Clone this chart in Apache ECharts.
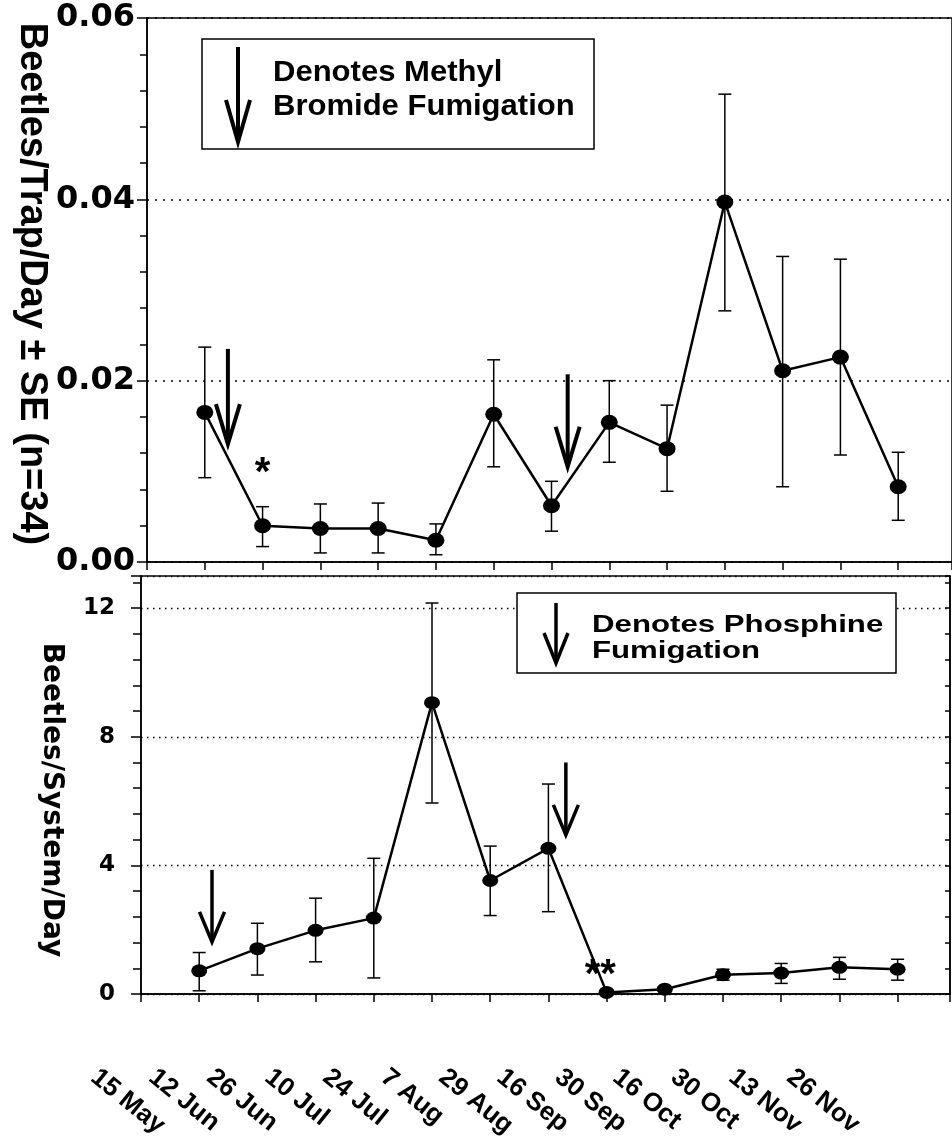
<!DOCTYPE html>
<html>
<head>
<meta charset="utf-8">
<script src="https://cdn.jsdelivr.net/npm/echarts/dist/echarts.min.js"></script>
<style>
html, body { margin: 0; padding: 0; background: #fff; }
#chart { width: 952px; height: 1137px; }
</style>
</head>
<body>
<div id="chart"></div>
<script>
// sampling dates, one per point (x = 1..13)
var dateLabels = ['15 May', '12 Jun', '26 Jun', '10 Jul', '24 Jul', '7 Aug', '29 Aug',
                  '16 Sep', '30 Sep', '16 Oct', '30 Oct', '13 Nov', '26 Nov'];

// top panel: beetles / trap / day, mean and mean - SE, mean + SE
var trapMean = [0.0165, 0.0040, 0.0037, 0.0037, 0.0024, 0.0163, 0.0062, 0.0154, 0.0125, 0.0397, 0.0211, 0.0226, 0.0083];
var trapLow  = [0.0093, 0.0017, 0.0010, 0.0010, 0.0008, 0.0105, 0.0034, 0.0110, 0.0078, 0.0277, 0.0083, 0.0118, 0.0046];
var trapHigh = [0.0237, 0.0061, 0.0064, 0.0065, 0.0042, 0.0223, 0.0089, 0.0200, 0.0173, 0.0516, 0.0337, 0.0334, 0.0121];

// bottom panel: beetles / system / day
var systemMean = [0.72, 1.41, 1.98, 2.36, 9.06, 3.53, 4.53, 0.05, 0.15, 0.60, 0.65, 0.83, 0.77];
var systemLow  = [0.10, 0.59, 1.00, 0.50, 5.94, 2.44, 2.56, 0.05, 0.15, 0.43, 0.33, 0.46, 0.43];
var systemHigh = [1.29, 2.20, 2.98, 4.22, 12.16, 4.60, 6.53, 0.05, 0.15, 0.77, 0.95, 1.14, 1.08];

// fumigation arrows: [x, y of tail, y of tip]
var bromideArrows = [[1.40, 0.0235, 0.0130], [7.28, 0.0207, 0.0105]];
var phosphineArrows = [[1.22, 3.86, 1.62], [7.30, 7.20, 4.95]];

// significance marks: [x, y, text]
var trapMarks = [[2.0, 0.0107, '*']];
var systemMarks = [[7.89, 0.84, '**']];

var trapTicks = { min: 0, max: 0.06, step: 0.02 };
var systemTicks = { min: 0, max: 13, step: 4 };

var black = '#000';
var chart = echarts.init(document.getElementById('chart'));

var pts = function (vals) {
    return vals.map(function (v, i) { return [i + 1, v]; });
};

var errorBars = function (xi, yi, lo, hi, cap) {
    return {
        type: 'custom', xAxisIndex: xi, yAxisIndex: yi, z: 2, silent: true,
        data: lo.map(function (v, i) { return [i + 1, v, hi[i]]; }),
        encode: { x: 0, y: [1, 2] },
        renderItem: function (params, api) {
            var x = api.value(0);
            var a = api.coord([x, api.value(2)]);
            var b = api.coord([x, api.value(1)]);
            if (Math.abs(a[1] - b[1]) < 1) return null;
            var st = { stroke: black, lineWidth: 1.5 };
            return { type: 'group', children: [
                { type: 'line', shape: { x1: a[0], y1: a[1], x2: b[0], y2: b[1] }, style: st },
                { type: 'line', shape: { x1: a[0] - cap, y1: a[1], x2: a[0] + cap, y2: a[1] }, style: st },
                { type: 'line', shape: { x1: b[0] - cap, y1: b[1], x2: b[0] + cap, y2: b[1] }, style: st }
            ] };
        }
    };
};

var arrowSeries = function (xi, yi, d, headH, headW, lw) {
    return {
        type: 'custom', xAxisIndex: xi, yAxisIndex: yi, z: 5, silent: true,
        data: d, encode: { x: 0, y: [1, 2] },
        renderItem: function (params, api) {
            var t = api.coord([api.value(0), api.value(1)]);
            var p = api.coord([api.value(0), api.value(2)]);
            var st = { stroke: black, lineWidth: lw, fill: null, lineJoin: 'miter' };
            return { type: 'group', children: [
                { type: 'line', shape: { x1: t[0], y1: t[1], x2: p[0], y2: p[1] - 2 }, style: st },
                { type: 'polyline', shape: { points: [[p[0] - headW / 2, p[1] - headH], [p[0], p[1]], [p[0] + headW / 2, p[1] - headH]] }, style: st }
            ] };
        }
    };
};

var markSeries = function (xi, yi, d, size) {
    return {
        type: 'custom', xAxisIndex: xi, yAxisIndex: yi, z: 5, silent: true,
        data: d.map(function (m) { return [m[0], m[1]]; }), encode: { x: 0, y: 1 },
        renderItem: function (params, api) {
            var c = api.coord([api.value(0), api.value(1)]);
            return { type: 'text', x: c[0], y: c[1] + size * 0.23, style: {
                text: d[params.dataIndex][2], fill: black, align: 'center', verticalAlign: 'middle',
                font: 'bold ' + size + 'px "Liberation Sans", Arial, sans-serif' } };
        }
    };
};

var lineSeries = function (xi, yi, vals, size) {
    return {
        type: 'line', xAxisIndex: xi, yAxisIndex: yi, z: 3, data: pts(vals),
        symbol: 'circle', symbolSize: size, showSymbol: true,
        itemStyle: { color: black }, lineStyle: { color: black, width: 2.5 }
    };
};

var axisLine = { show: true, lineStyle: { color: black, width: 1.5 } };
var tickFont = '"DejaVu Sans", sans-serif';

option = {
    animation: false,
    backgroundColor: '#fff',
    grid: [
        { left: 147, top: 18, width: 808, height: 544, show: true, borderColor: black, borderWidth: 1.5 },
        { left: 141, top: 576, width: 809, height: 418, show: true, borderColor: black, borderWidth: 1.5 },
        { left: 36, top: 1074, width: 754, height: 1 }
    ],
    xAxis: [
        { gridIndex: 0, type: 'value', min: 0, max: 808 / 58, interval: 1, axisLine: axisLine,
          axisTick: { show: true, length: 8, lineStyle: { color: black, width: 1.5 } },
          axisLabel: { show: false }, splitLine: { show: false } },
        { gridIndex: 1, type: 'value', min: 0, max: 809 / 58.2, interval: 1, axisLine: axisLine,
          axisTick: { show: true, length: 8, lineStyle: { color: black, width: 1.5 } },
          axisLabel: { show: false }, splitLine: { show: false } },
        { gridIndex: 2, type: 'value', min: 0, max: 13, interval: 1,
          axisLine: { show: false }, axisTick: { show: false }, splitLine: { show: false },
          axisLabel: { show: true, rotate: -39, margin: 0, color: black, fontSize: 26, fontWeight: 'bold',
                       fontFamily: '"Liberation Sans", Arial, sans-serif',
                       formatter: function (v) { return dateLabels[Math.round(v) - 1] || ''; } } }
    ],
    yAxis: [
        { gridIndex: 0, type: 'value', min: trapTicks.min, max: trapTicks.max, interval: trapTicks.step,
          axisLine: axisLine,
          axisTick: { show: true, length: 10, lineStyle: { color: black, width: 1.5 } },
          minorTick: { show: true, splitNumber: 5, length: 7, lineStyle: { color: black, width: 1.5 } },
          axisLabel: { margin: 12, color: black, fontSize: 32, fontWeight: 'bold', fontFamily: tickFont,
                       formatter: function (v) { return v.toFixed(2); } },
          splitLine: { show: true, lineStyle: { color: black, width: 1.6, type: [2, 6] } } },
        { gridIndex: 1, type: 'value', min: systemTicks.min, max: systemTicks.max, interval: systemTicks.step,
          axisLine: axisLine,
          axisTick: { show: true, length: 10, lineStyle: { color: black, width: 1.5 } },
          minorTick: { show: true, splitNumber: 5, length: 8, lineStyle: { color: black, width: 1.5 } },
          axisLabel: { margin: 26, color: black, fontSize: 23, fontWeight: 'bold', fontFamily: tickFont,
                       formatter: function (v) { return v % systemTicks.step === 0 ? String(v) : ''; } },
          splitLine: { show: true, lineStyle: { color: black, width: 1.3, type: [1.5, 4.5] } } },
        { gridIndex: 1, type: 'value', position: 'right', min: 0, max: 13, interval: 0.8,
          axisLine: axisLine,
          axisTick: { show: true, inside: true, length: 5, lineStyle: { color: black, width: 1.5 } },
          axisLabel: { show: false }, splitLine: { show: false } },
        { gridIndex: 2, type: 'value', show: false }
    ],
    graphic: [
        // axis titles
        { type: 'text', x: 31, y: 284, rotation: -Math.PI / 2,
          style: { text: 'Beetles/Trap/Day \u00b1 SE (n=34)', fill: black, align: 'center', verticalAlign: 'middle',
                   font: 'bold 38px "Liberation Sans", Arial, sans-serif' } },
        { type: 'text', x: 51, y: 800, rotation: -Math.PI / 2,
          style: { text: 'Beetles/System/Day', fill: black, align: 'center', verticalAlign: 'middle',
                   font: 'bold 28px "DejaVu Sans", sans-serif' } },
        // methyl bromide key
        { type: 'rect', z: 10, shape: { x: 202, y: 39, width: 392, height: 110 },
          style: { fill: '#fff', stroke: black, lineWidth: 1.5 } },
        { type: 'line', z: 11, shape: { x1: 238, y1: 47, x2: 238, y2: 140 }, style: { stroke: black, lineWidth: 4 } },
        { type: 'polyline', z: 11, shape: { points: [[226, 100], [238, 142], [250, 100]] },
          style: { stroke: black, lineWidth: 4, fill: null } },
        { type: 'text', z: 11, x: 273, y: 72.5, scaleX: 1.07,
          style: { text: 'Denotes Methyl', fill: black, align: 'left', verticalAlign: 'middle',
                   font: 'bold 29px "Liberation Sans", Arial, sans-serif' } },
        { type: 'text', z: 11, x: 273, y: 107, scaleX: 1.07,
          style: { text: 'Bromide Fumigation', fill: black, align: 'left', verticalAlign: 'middle',
                   font: 'bold 29px "Liberation Sans", Arial, sans-serif' } },
        // phosphine key
        { type: 'rect', z: 10, shape: { x: 517, y: 593, width: 379, height: 80 },
          style: { fill: '#fff', stroke: black, lineWidth: 1.5 } },
        { type: 'line', z: 11, shape: { x1: 556, y1: 603, x2: 556, y2: 661 }, style: { stroke: black, lineWidth: 3.5 } },
        { type: 'polyline', z: 11, shape: { points: [[544, 633], [556, 663], [568, 633]] },
          style: { stroke: black, lineWidth: 3.5, fill: null } },
        { type: 'text', z: 11, x: 592, y: 625, scaleX: 1.3,
          style: { text: 'Denotes Phosphine', fill: black, align: 'left', verticalAlign: 'middle',
                   font: 'bold 24px "Liberation Sans", Arial, sans-serif' } },
        { type: 'text', z: 11, x: 592, y: 651, scaleX: 1.3,
          style: { text: 'Fumigation', fill: black, align: 'left', verticalAlign: 'middle',
                   font: 'bold 24px "Liberation Sans", Arial, sans-serif' } }
    ],
    series: [
        errorBars(0, 0, trapLow, trapHigh, 6.5),
        lineSeries(0, 0, trapMean, [17, 15]),
        arrowSeries(0, 0, bromideArrows, 40, 24, 4),
        markSeries(0, 0, trapMarks, 40),
        errorBars(1, 1, systemLow, systemHigh, 6.5),
        lineSeries(1, 1, systemMean, [16, 13]),
        arrowSeries(1, 1, phosphineArrows, 30, 25, 3.5),
        markSeries(1, 1, systemMarks, 40),
        { type: 'line', xAxisIndex: 2, yAxisIndex: 3, data: [], silent: true }
    ]
};
chart.setOption(option);
</script>
</body>
</html>
